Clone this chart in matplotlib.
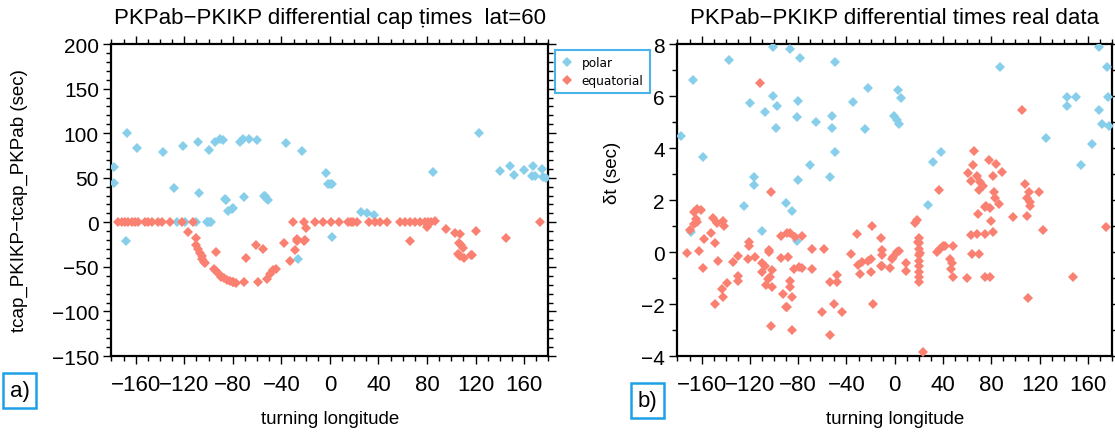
import numpy as np
import matplotlib
matplotlib.use('Agg')
import matplotlib.pyplot as plt
from matplotlib.ticker import MultipleLocator
from matplotlib.lines import Line2D

# panel a) cap times, polar
cap_polar_lon = [-177.6, -177.6, -167.4, -159.2, -168.2, -137.5, -128.2, -121, -109, -108,
                 -99.4, -94.7, -90.6, -88, -85.7, -86.5, -83.8, -81, -79.5, -74, -71.4, -70.6,
                 -66.7, -60.4, -54.5, -53.6, -52.5, -51.4, -36.3, -23.4, -26.2, -3.6, -2, 0, 2,
                 1.8, 26, 30.6, 36.4, 85, 122.5, 140.4, 148, 151.6, 159.8, 167.2, 166.4, 169,
                 174.6, 175.5, 178, -126, -119.4, -110.6, -101.6, -100.2, -98.8, -98]
cap_polar_val = [61.7, 44, 99.8, 83.7, -21, 79, 39, 86, 90.5, 33,
                 80.8, 89.8, 93.5, 92.7, 25.4, 26, 13, 15, 16, 90.5, 93.5, 28,
                 93.5, 92.7, 30, 29, 27, 25.4, 88.5, 80.4, -41, 55.3, 43, 43, 43,
                 -16, 12, 10.4, 8.2, 56, 100, 58, 63.5, 53.4, 58.7, 62.8, 52, 52,
                 60, 50.5, 50, 0, 0, 0, 0, 0, 0, 0]

# panel a) cap times, equatorial
cap_eq_lon = [-174.3, -171.5, -168.8, -166.1, -163.3, -160.6, -157.9, -152.3, -149.6, -146.8,
              -141.4, -138.6, -131.8, -122.1, -112.6, -30.3, -21.2, -12.4, -5.6, 0.5, 7.6,
              15, 17.5, 19.1, 21.9, 32.3, 37, 41, 46.6, 57.5, 61.6, 65.8, 69.9, 74, 78.1,
              80.8, 83.6, 86.3, 172.7,
              -116.7, -110.4, -110.4, -108.5, -107, -105.5, -105, -103.5, -102.5, -93.9,
              -95.6, -93.5, -91.5, -89.5, -87, -85, -82.5, -80, -79.5, -77, -70.6, -69.2,
              -61.2, -59.6, -55, -52.2, -49.5, -47.2, -44.5, -38, -33, -28.9, -27.5, -27,
              -21.2, -20.7, -19.8, 66.3, 80, 95.4, 103.4, 107.5, 106.4, 108, 109.6, 105.3,
              107, 110.3, 116.5, 117.3, 120.7, 144.8]
cap_eq_val = [0] * 38 + [0,
              -11, -18, -26, -30, -34, -38, -41, -44, -46, -33,
              -52, -55, -58, -61, -63, -64.5, -65.5, -66.5, -67, -68, -67.5, -40.5,
              -25.5, -67.5, -30, -63.6, -58, -54, -52.5, -23, -43, -30.7, -18.7, -20.6,
              -20.6, -19.5, -6.7, -20.6, -5.7, -7.5, -12.4, -13.5, -23, -26, -29, -35.6,
              -38, -40.4, -37, -36.7, -10, -17.6]
cap_eq_val[37] = 1.5

# panel b) real data, polar
real_polar_lon = [-177.1, -166.9, -158.6, -168.8, -137.3, -120.2, -116.6, -116.6, -125.2, -109.7,
                  -107.5, -100.6, -100.6, -97.8, -98.4, -90.4, -84.9, -86.8, -78.5, -80.4,
                  -81.2, -80.4, -81.2, -70.2, -65.5, -53.7, -51.7, -51.7, -49.5, -49.5,
                  -34.9, -24.7, -22.4, 2.4, 4.9, -0.6, 1.6, 3.5, 32, 38, 27.3, 87.2, 125.3,
                  142.4, 150.2, 142.4, 154.3, 163.2, 169.2, 169.5, 171.5, 176.1, 176.9, 177.7]
real_polar_val = [4.47, 6.63, 3.67, 0.78, 7.4, 5.73, 2.87, 2.59, 1.76, 0.82,
                  5.4, 7.9, 6.01, 5.63, 4.76, 1.87, 1.56, 7.8, 7.46, 5.82,
                  5.18, 2.77, 0.44, 3.35, 4.99, 2.87, 5.24, 4.76, 7.3, 3.86,
                  5.78, 4.73, 6.29, 6.24, 5.92, 5.22, 5.09, 4.92, 3.45, 3.86, 1.81, 7.13, 4.37,
                  5.95, 5.95, 5.6, 3.36, 4.15, 7.9, 5.47, 4.92, 7.1, 5.95, 4.83]

# panel b) real data, equatorial
real_eq_lon = [-111.6, -102.8, -164.1, -160.5, -166.1, -164.9, -163.5, -166.5, -169.6, -172.4,
               -162.2, -157.8, -158.6, -152.2, -150.3, -147.5, -148.9, -142, -141.2, -146.7,
               -148.9, -142, -143.4, -139.2, -133.8, -129.6, -130.1, -129.6, -120.8, -120.8,
               -121.8, -115.8, -109.7, -109.7, -105.3, -106.9, -102, -102, -104.2, -104.2,
               -107.5, -103.5, -102.5, -94.5, -89.5, -86.8, -82.7, -76.6, -94.5, -88.2,
               -92.3, -89.5, -84.9, -86.8, -86.8, -85.4, -83.2, -79.3, -77.1, -68.8,
               -68.3, -58.4, -60.5, -53.7, -53.7, -48.1, -48.1, -50.1, -43.5, -36.5,
               -31.5, -30.2, -26.9, -22.4, -19.7, -28.8, -19.7, -10.8, -4, -19.1,
               -11.4, -10.3, -10.8, -17.8, -2.5, -11.6, -90.1,
               105.2, 1.6, 3.8, -1.7, 9.3, 9.3, 16.8, 18.7,
               20.4, 20.4, 20.4, 20.4, 20.4, 20.4, 20.4, 20.4, 20.4, 19.5, 21,
               23.7, 37, 34.8, 37.5, 39.8, 41.7, 48.5, 45.8, 47.2, 46.4, 48.5, 60.1,
               62.9, 68.4, 74.8, 81.1, 63.7, 70.1, 74.8, 78.9, 65.9, 64.6, 61, 63.2,
               68.4, 70.6, 70.1, 72.9, 78.3, 83.9, 81.6, 88.6, 82.2, 83.1, 86.6, 69.2,
               74.8, 78.9, 79.5, 75.6, 97.7, 107.9, 111.5, 109.3, 112.1, 112.1, 119.8,
               109.3, 123.1, 110.6, 147.4, 175]
real_eq_val = [6.49, 2.3, 1.65, 1.63, 1.53, 1.27, 1.17, 1.08, 0.86, -0.05,
               0.05, 0.5, -0.6, 0.73, 1.3, 1.12, 0.35, 1.2, 0.99, -0.33,
               -2.0, -1.74, -1.42, -1.19, -0.4, -0.17, -0.93, -1.1, 0.4, 0.22,
               -0.27, -0.2, -0.42, -0.78, -1.04, -1.27, -1.36, -0.68, 0.09, -0.01,
               -0.55, -0.95, -2.86, 0.63, 0.73, 0.73, 0.56, 0.63, -0.24, -0.2,
               -1.62, -2.1, -1.72, -1.1, -1.36, -2.99, -0.65, -0.59, -0.63, -0.65,
               0.12, 0.12, -2.3, -3.18, -1.14, -0.88, -1.14, -2.0, -2.3, -0.08,
               0.69, -0.5, -0.37, -0.33, -0.27, -0.85, -0.78, -0.55, -0.6, 1.01,
               0.53, 0.09, -0.12, -2.0, -0.27, -0.53, -2.13,
               5.47, -0.01, 0.05, -0.2, -0.42, -0.72, 1.12, 1.24,
               0.53, 0.35, 0.12, -0.12, -0.33, -0.53, -0.76, -0.97, -1.17, 0.4, -0.05,
               -3.83, 2.4, 0.01, 0.12, 0.22, 0.24, 0.22, -0.27, -0.42, -0.65, -0.95, -1.01,
               0.65, 0.69, 0.69, 0.76, -0.08, -0.08, -0.97, -0.97, 3.9, 3.35, 3.04, 2.74,
               2.93, 2.68, 2.4, 2.55, 3.55, 3.38, 2.93, 3.09, 2.32, 2.07, 1.85, 1.46,
               1.72, 1.68, 1.2, 1.76, 1.33, 2.62, 2.3, 2.07, 1.91, 1.78, 2.3,
               1.4, 0.86, -1.78, -0.95, 0.95]

xticks = [-160, -120, -80, -40, 0, 40, 80, 120, 160]

blue = '#87ceeb'
red = '#fa8072'
frame = '#1ea0e6'
fam = ['Liberation Sans', 'DejaVu Sans']

fig = plt.figure(figsize=(11.15, 4.35), dpi=100)
ax1 = fig.add_axes([0.0999, 0.1793, 0.392, 0.7172])
ax2 = fig.add_axes([0.6076, 0.1793, 0.3897, 0.7172])


def style(ax, ylim, ymaj, ymin):
    ax.set_xlim(-180, 180)
    ax.set_ylim(*ylim)
    ax.set_xticks(xticks)
    ax.xaxis.set_minor_locator(MultipleLocator(10))
    ax.yaxis.set_major_locator(MultipleLocator(ymaj))
    ax.yaxis.set_minor_locator(MultipleLocator(ymin))
    ax.tick_params(which='both', direction='out', top=True, right=True, width=1.0)
    ax.tick_params(which='major', length=6)
    ax.tick_params(which='minor', length=3.5)
    ax.tick_params(axis='x', labelsize=16, pad=7)
    ax.tick_params(axis='y', labelsize=15, pad=3)
    for lab in ax.get_xticklabels() + ax.get_yticklabels():
        lab.set_family(fam)
    for s in ax.spines.values():
        s.set_linewidth(1.6)
    ax.set_xlabel('turning longitude', family=fam, fontsize=13.5, labelpad=11)


ms = 4.8
ax1.plot(cap_polar_lon, cap_polar_val, 'D', color=blue, ms=ms, mew=0, zorder=3)
ax1.plot(cap_eq_lon, cap_eq_val, 'D', color=red, ms=ms, mew=0, zorder=3)
style(ax1, (-150, 200), 50, 10)
ax1.set_title('PKPab\u2212PKIKP differential cap \u1e6dimes  lat=60', family=fam, fontsize=16, pad=15)
ax1.set_ylabel('tcap_PKIKP\u2212tcap_PKPab (sec)', family=fam, fontsize=13.5, labelpad=17)

ax2.plot(real_polar_lon, real_polar_val, 'D', color=blue, ms=ms, mew=0, zorder=3)
ax2.plot(real_eq_lon, real_eq_val, 'D', color=red, ms=ms, mew=0, zorder=3)
style(ax2, (-4, 8), 2, 1)
ax2.set_title('PKPab\u2212PKIKP differential times real data', family=fam, fontsize=16, pad=15)
ax2.set_ylabel('\u03b4t (sec)', family=fam, fontsize=13.5)
ax2.yaxis.set_label_coords(-0.13, 0.59)

# legend in the gap between panels
handles = [Line2D([], [], marker='D', ls='none', color=blue, ms=5.5, mew=0, label='polar'),
           Line2D([], [], marker='D', ls='none', color=red, ms=5.5, mew=0, label='equatorial')]
leg = fig.legend(handles=handles, loc='upper left', bbox_to_anchor=(0.498, 0.883),
                 frameon=True, fancybox=False, fontsize=8.7, handletextpad=0.7,
                 borderpad=0.5, labelspacing=0.4, handlelength=1.0, borderaxespad=0)
leg.get_frame().set_edgecolor(frame)
leg.get_frame().set_linewidth(1.5)

box = dict(boxstyle='square,pad=0.3', fc='white', ec=frame, lw=1.8)
fig.text(0.0175, 0.1, 'a)', family=fam, fontsize=16, ha='center', va='center', bbox=box)
fig.text(0.5805, 0.077, 'b)', family=fam, fontsize=16, ha='center', va='center', bbox=box)

plt.savefig('out.png', dpi=100)
